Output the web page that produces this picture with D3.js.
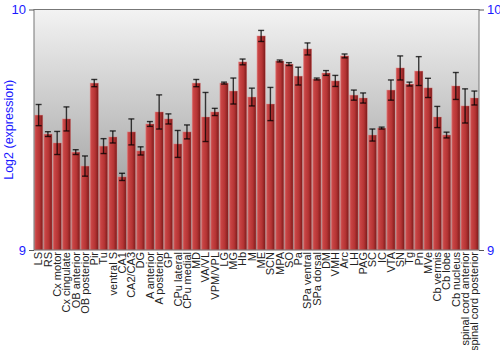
<!DOCTYPE html>
<html>
<head>
<meta charset="utf-8">
<script src="https://cdn.jsdelivr.net/npm/d3@7"></script>
<style>
  body { margin: 0; background: #fff; }
  svg { display: block; font-family: "Liberation Sans", Arial, sans-serif; }
</style>
</head>
<body>
<script>
// regions (x axis)
var regions = ["LS", "RS", "Cx motor", "Cx cingulate", "OB anterior", "OB posterior", "Pir", "Tu",
  "ventral S", "CA1", "CA2/CA3", "DG", "A anterior", "A posterior", "GP", "CPu lateral", "CPu medial",
  "MD", "VA/VL", "VPM/VPL", "LG", "MG", "Hb", "M", "ME", "SCN", "MPA", "SO", "Pa", "SPa ventral",
  "SPa dorsal", "DM", "VMH", "Arc", "LH", "PAG", "SC", "IC", "VTA", "SN", "Tg", "Pn", "MVe",
  "Cb vermis", "Cb lobe", "Cb nucleus", "spinal cord anterior", "spinal cord posterior"];

// mean log2 expression
var means = [9.561, 9.482, 9.445, 9.545, 9.407, 9.349, 9.694, 9.432,
  9.470, 9.304, 9.491, 9.412, 9.524, 9.574, 9.545, 9.441, 9.491,
  9.694, 9.553, 9.574, 9.694, 9.661, 9.782, 9.636, 9.890, 9.607, 9.786, 9.773, 9.723, 9.836,
  9.711, 9.736, 9.703, 9.807, 9.644, 9.632, 9.478, 9.507, 9.665, 9.757, 9.690, 9.744, 9.674,
  9.553, 9.478, 9.682, 9.599, 9.632];

// error (half the bar)
var errs = [0.044, 0.010, 0.048, 0.050, 0.010, 0.042, 0.015, 0.031,
  0.025, 0.015, 0.054, 0.017, 0.010, 0.071, 0.021, 0.056, 0.029,
  0.015, 0.102, 0.015, 0.004, 0.054, 0.012, 0.037, 0.023, 0.069, 0.004, 0.006, 0.037, 0.025,
  0.004, 0.010, 0.023, 0.008, 0.021, 0.021, 0.025, 0.004, 0.042, 0.050, 0.008, 0.060, 0.040,
  0.044, 0.012, 0.056, 0.071, 0.029];

var yTicks = [9, 10];

var data = regions.map(function (r, i) {
  return { name: r, value: means[i], err: errs[i] };
});

var margin = { top: 9.5, right: 21, bottom: 100, left: 34 };
var W = 500, H = 350;
var width = W - margin.left - margin.right;
var height = H - margin.top - margin.bottom;

var svg = d3.select("body").append("svg")
  .attr("width", W)
  .attr("height", H);

var defs = svg.append("defs");
var bg = defs.append("linearGradient").attr("id", "bg")
  .attr("x1", 0).attr("y1", 0).attr("x2", 0).attr("y2", 1);
bg.append("stop").attr("offset", "0%").attr("stop-color", "#f3f3f3");
bg.append("stop").attr("offset", "100%").attr("stop-color", "#8a8a8a");

var barGrad = defs.append("linearGradient").attr("id", "bar")
  .attr("x1", 0).attr("y1", 0).attr("x2", 1).attr("y2", 0);
barGrad.append("stop").attr("offset", "0%").attr("stop-color", "#d46a6a");
barGrad.append("stop").attr("offset", "18%").attr("stop-color", "#c84444");
barGrad.append("stop").attr("offset", "60%").attr("stop-color", "#b53434");
barGrad.append("stop").attr("offset", "100%").attr("stop-color", "#7c1a1a");

var g = svg.append("g")
  .attr("transform", "translate(" + margin.left + "," + margin.top + ")");

var x = d3.scaleBand().domain(regions).range([0, width]).paddingInner(0.1).paddingOuter(0.05);
var y = d3.scaleLinear().domain([9, 10]).range([height, 0]);

// plot background
g.append("rect")
  .attr("width", width)
  .attr("height", height)
  .attr("fill", "url(#bg)");

// bars
g.selectAll("rect.bar")
  .data(data)
  .enter()
  .append("rect")
  .attr("class", "bar")
  .attr("x", function (d) { return x(d.name); })
  .attr("y", function (d) { return y(d.value); })
  .attr("width", x.bandwidth())
  .attr("height", function (d) { return y(9) - y(d.value); })
  .attr("fill", "url(#bar)")
  .attr("stroke", "rgba(230,140,140,0.6)")
  .attr("stroke-width", 0.6);

// error bars
var eb = g.selectAll("g.err")
  .data(data)
  .enter()
  .append("g")
  .attr("class", "err")
  .attr("stroke", "#000")
  .attr("stroke-opacity", 0.75)
  .attr("stroke-width", 1.4);

eb.append("line")
  .attr("x1", function (d) { return x(d.name) + x.bandwidth() / 2; })
  .attr("x2", function (d) { return x(d.name) + x.bandwidth() / 2; })
  .attr("y1", function (d) { return y(d.value + d.err); })
  .attr("y2", function (d) { return y(d.value - d.err); });

eb.selectAll("line.cap")
  .data(function (d) { return [[d, d.value + d.err], [d, d.value - d.err]]; })
  .enter()
  .append("line")
  .attr("class", "cap")
  .attr("x1", function (d) { return x(d[0].name) + x.bandwidth() / 2 - 3; })
  .attr("x2", function (d) { return x(d[0].name) + x.bandwidth() / 2 + 3; })
  .attr("y1", function (d) { return y(d[1]); })
  .attr("y2", function (d) { return y(d[1]); });

// border
g.append("rect")
  .attr("width", width)
  .attr("height", height)
  .attr("fill", "none")
  .attr("stroke", "#777")
  .attr("stroke-width", 1);

// left and right y axes
var yLeft = g.append("g").call(d3.axisLeft(y).tickValues(yTicks).tickSize(5).tickFormat(d3.format("d")));
var yRight = g.append("g").attr("transform", "translate(" + width + ",0)")
  .call(d3.axisRight(y).tickValues(yTicks).tickSize(5).tickFormat(d3.format("d")));
[yLeft, yRight].forEach(function (ax) {
  ax.select(".domain").remove();
  ax.selectAll(".tick line").attr("stroke", "#555");
  ax.selectAll(".tick text")
    .attr("fill", "#1a1aff")
    .style("font-size", "13px")
    .style("font-family", "Liberation Sans, Arial, sans-serif");
});

// x labels
var xAxis = g.append("g")
  .attr("transform", "translate(0," + height + ")")
  .call(d3.axisBottom(x).tickSize(0));
xAxis.select(".domain").remove();
xAxis.selectAll(".tick text")
  .attr("transform", "rotate(-90)")
  .attr("x", -2)
  .attr("y", 0)
  .attr("dy", "0.35em")
  .attr("text-anchor", "end")
  .attr("fill", "#222")
  .style("font-size", "11px")
  .style("font-family", "Liberation Sans, Arial, sans-serif");

// y title
svg.append("text")
  .attr("transform", "translate(13," + (margin.top + height / 2) + ") rotate(-90)")
  .attr("text-anchor", "middle")
  .attr("fill", "#1a1aff")
  .style("font-size", "12.5px")
  .text("Log2 (expression)");
</script>
</body>
</html>
